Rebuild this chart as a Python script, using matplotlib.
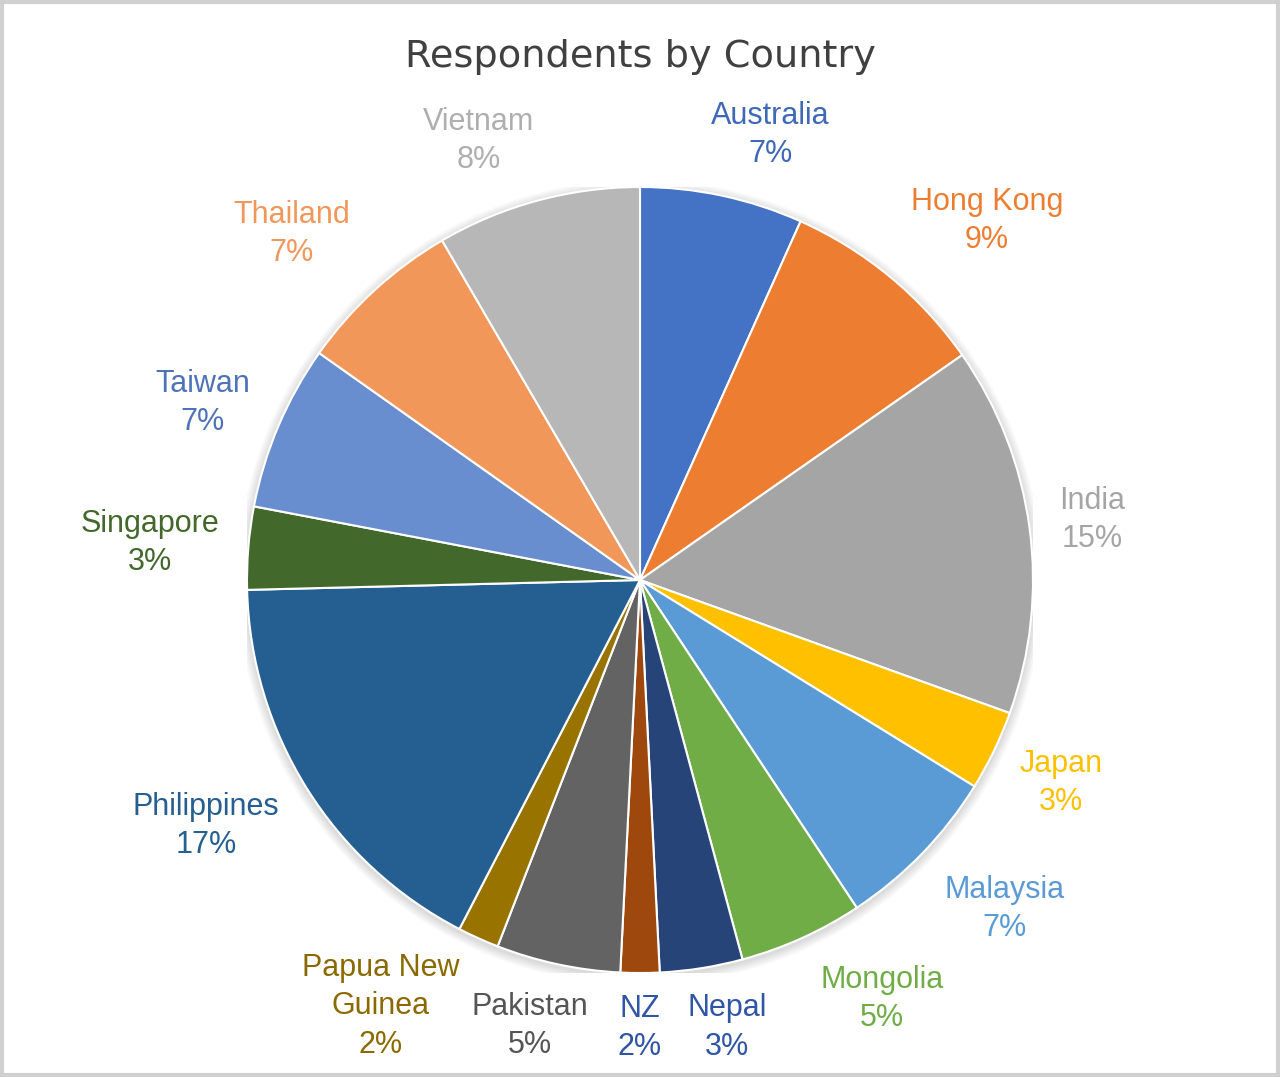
import matplotlib
matplotlib.use("Agg")
import matplotlib.pyplot as plt
from matplotlib.patches import Rectangle, Circle
import numpy as np

# respondents by country, share in percent (clockwise from 12 o'clock)
countries = ['Australia', 'Hong Kong', 'India', 'Japan', 'Malaysia', 'Mongolia', 'Nepal', 'NZ',
             'Pakistan', 'Papua New\nGuinea', 'Philippines', 'Singapore', 'Taiwan', 'Thailand', 'Vietnam']
shares = [6.7, 8.6, 15.2, 3.3, 6.9, 5.1, 3.4, 1.6, 5.1, 1.7, 17.0, 3.4, 6.8, 6.8, 8.4]
colors = ['#4472C4', '#ED7D31', '#A5A5A5', '#FFC000', '#5B9BD5', '#70AD47', '#264478', '#9E480E',
          '#636363', '#997300', '#255E91', '#43682B', '#698ED0', '#F1975A', '#B7B7B7']
label_colors = ['#3F69B8', '#ED7D31', '#A5A5A5', '#FFC000', '#5B9BD5', '#70AD47', '#2F55A6', '#2F55A6',
                '#555555', '#8A6A00', '#255E91', '#43682B', '#4F73B8', '#F1975A', '#AFAFAF']

# label placement (excel "best fit" look): angle nudge in degrees, distance in radii
nudge = [4.3, 4.4, 0, 0, -2, -5.7, -2, 0, 1.8, 7, 2.5, -0.4, -1, -2.7, -5.1]
dist = [1.18, 1.27, 1.16, 1.19, 1.25, 1.23, 1.16, 1.14, 1.17, 1.27, 1.27, 1.25, 1.20, 1.25, 1.19]

W, H = 1280, 1077
cx, cy, r = 640, 580, 393

fig = plt.figure(figsize=(W / 100, H / 100), dpi=100)
fig.patch.set_facecolor('white')
ax = fig.add_axes([(cx - r) / W, (H - cy - r) / H, 2 * r / W, 2 * r / H])

# soft shadow under the pie
for k in range(6):
    ax.add_patch(Circle((0, -0.006), 1.0 + 0.004 * (k + 1), color='black', alpha=0.025, zorder=0, lw=0))

wedges, _ = ax.pie(shares, colors=colors, startangle=90, counterclock=False, radius=1,
                   wedgeprops=dict(edgecolor='white', linewidth=1.5))
ax.set_xlim(-1, 1)
ax.set_ylim(-1, 1)
ax.axis('off')

cum = np.cumsum(shares) - np.array(shares) / 2
for i, name in enumerate(countries):
    theta = np.deg2rad(cum[i] / sum(shares) * 360 + nudge[i])
    x = dist[i] * np.sin(theta)
    y = dist[i] * np.cos(theta)
    ax.text(x, y, f"{name}\n{round(shares[i])}%", ha='center', va='center', multialignment='center',
            fontsize=22, family='Liberation Sans', color=label_colors[i], linespacing=1.35, clip_on=False)

fig.text(0.5, 1 - 57 / H, 'Respondents by Country', ha='center', va='center',
         fontsize=27.5, family='DejaVu Sans', color='#404040')

fig.patches.append(Rectangle((0.0015, 0.002), 0.997, 0.996, transform=fig.transFigure,
                             fill=False, edgecolor='#d0d0d0', lw=3))

fig.savefig('out.png', dpi=100)
